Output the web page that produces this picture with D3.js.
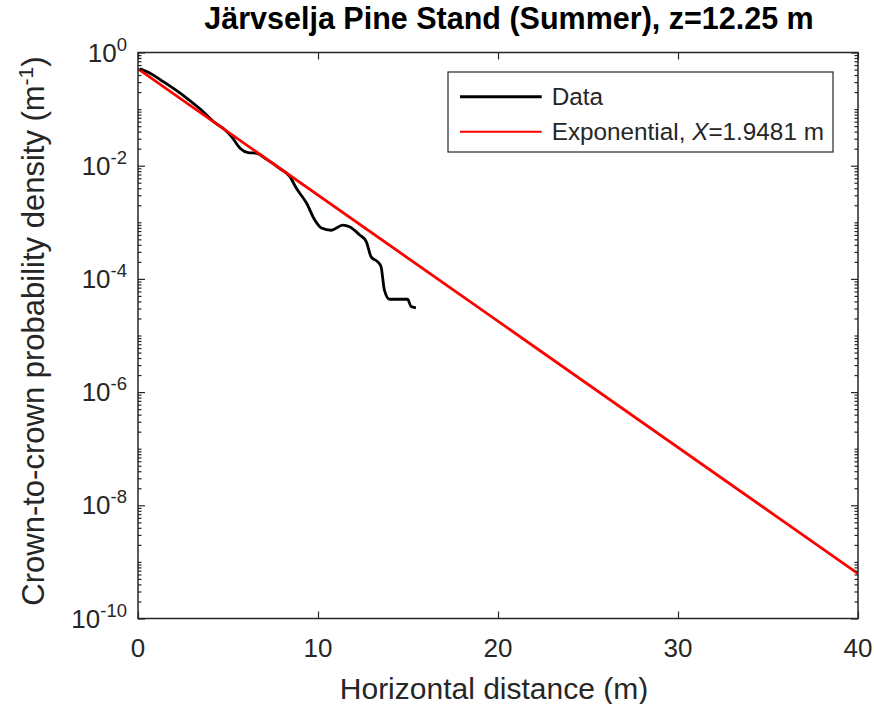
<!DOCTYPE html>
<html>
<head>
<meta charset="utf-8">
<script src="https://cdn.jsdelivr.net/npm/d3@7"></script>
<style>
  body { margin: 0; background: #fff; }
  svg text { font-family: "Liberation Sans", Arial, Helvetica, sans-serif; }
</style>
</head>
<body>
<svg id="chart" width="874" height="704"></svg>
<script>
// Measured crown-to-crown distance distribution (m, 1/m)
const distance = [0.1, 0.69, 1.43, 2.17, 2.72, 3.46, 4.19, 4.84, 5.21, 5.67, 6.13, 6.59, 7.15, 7.88, 8.43,
                  8.8, 9.36, 9.82, 10.19, 10.74, 11.38, 11.75, 12.3, 12.68, 12.95, 13.32, 13.5, 13.69, 13.97,
                  14.98, 15.17, 15.44];
const density = [0.513, 0.427, 0.302, 0.209, 0.155, 0.100, 0.0603, 0.0427, 0.0324, 0.0204, 0.0170, 0.0166,
                 0.0129, 0.00891, 0.00646, 0.00398, 0.00219, 0.00110, 7.94e-4, 7.24e-4, 8.91e-4, 8.32e-4,
                 6.03e-4, 4.57e-4, 2.45e-4, 2.00e-4, 1.66e-4, 6.31e-5, 4.37e-5, 4.37e-5, 3.24e-5, 3.09e-5];

// Exponential model p(r) = exp(-r/X)/X with fitted length scale X
const fitLength = 1.9481;
const fitRange = [0, 40];

const xTickValues = [0, 10, 20, 30, 40];
const yTickExponents = [-10, -8, -6, -4, -2, 0];
const legendLabels = ["Data", "Exponential"];

const titleText = "Järvselja Pine Stand (Summer), z=12.25 m";
const xLabelText = "Horizontal distance (m)";

const box = { left: 138, right: 858, top: 52.5, bottom: 618.5 };
const axisColor = "#262626";
const tickFont = 26;

const svg = d3.select("#chart");

const x = d3.scaleLinear().domain([0, 40]).range([box.left, box.right]);
const y = d3.scaleLog().domain([1e-10, 1]).range([box.bottom, box.top]);

// clip region for curves
svg.append("defs").append("clipPath").attr("id", "plotClip")
  .append("rect")
  .attr("x", box.left).attr("y", box.top)
  .attr("width", box.right - box.left).attr("height", box.bottom - box.top);

const plot = svg.append("g").attr("clip-path", "url(#plotClip)");

const dataPoints = distance.map((d, i) => [d, density[i]]);
const line = d3.line().x(d => x(d[0])).y(d => y(d[1]));

plot.append("path")
  .datum(dataPoints)
  .attr("fill", "none")
  .attr("stroke", "#000")
  .attr("stroke-width", 2.8)
  .attr("stroke-linejoin", "round")
  .attr("d", line.curve(d3.curveMonotoneX));

const fitPoints = fitRange.map(r => [r, Math.exp(-r / fitLength) / fitLength]);
plot.append("path")
  .datum(fitPoints)
  .attr("fill", "none")
  .attr("stroke", "#ff0000")
  .attr("stroke-width", 2.8)
  .attr("d", d3.line().x(d => x(d[0])).y(d => y(d[1]))(fitPoints));

// axes (ticks pointing inward on all four sides)
const majorY = yTickExponents.map(e => Math.pow(10, e));
const minorY = y.ticks(30).filter(v => !majorY.some(m => Math.abs(Math.log10(v) - Math.log10(m)) < 1e-6));

function styleAxis(g) {
  g.select(".domain").remove();
  g.selectAll("line").attr("stroke", axisColor).attr("stroke-width", 1.2);
  g.selectAll("text").remove();
}

svg.append("g").attr("transform", `translate(0,${box.bottom})`)
  .call(d3.axisBottom(x).tickValues(xTickValues).tickSize(-7)).call(styleAxis);
svg.append("g").attr("transform", `translate(0,${box.top})`)
  .call(d3.axisTop(x).tickValues(xTickValues).tickSize(-7)).call(styleAxis);
svg.append("g").attr("transform", `translate(${box.left},0)`)
  .call(d3.axisLeft(y).tickValues(majorY).tickSize(-7)).call(styleAxis);
svg.append("g").attr("transform", `translate(${box.right},0)`)
  .call(d3.axisRight(y).tickValues(majorY).tickSize(-7)).call(styleAxis);
svg.append("g").attr("transform", `translate(${box.left},0)`)
  .call(d3.axisLeft(y).tickValues(minorY).tickSize(-3.5)).call(styleAxis);
svg.append("g").attr("transform", `translate(${box.right},0)`)
  .call(d3.axisRight(y).tickValues(minorY).tickSize(-3.5)).call(styleAxis);

svg.append("rect")
  .attr("x", box.left).attr("y", box.top)
  .attr("width", box.right - box.left).attr("height", box.bottom - box.top)
  .attr("fill", "none").attr("stroke", axisColor).attr("stroke-width", 1.5);

// x tick labels
svg.append("g").selectAll("text")
  .data(xTickValues).join("text")
  .attr("x", d => x(d)).attr("y", box.bottom + 38.5)
  .attr("text-anchor", "middle")
  .attr("font-size", tickFont).attr("fill", axisColor)
  .text(d => d);

// y tick labels as 10^k
const yLab = svg.append("g").selectAll("text")
  .data(yTickExponents).join("text")
  .attr("x", box.left - 11).attr("y", e => y(Math.pow(10, e)) + 9)
  .attr("text-anchor", "end")
  .attr("font-size", tickFont).attr("fill", axisColor);
yLab.append("tspan").text("10");
yLab.append("tspan").attr("dy", -11).attr("font-size", 18.5).text(e => e);

// title
svg.append("text")
  .attr("x", 509).attr("y", 28.5)
  .attr("text-anchor", "middle")
  .attr("font-size", 30.5).attr("font-weight", "bold").attr("fill", "#000")
  .text(titleText);

// x axis label
svg.append("text")
  .attr("x", 494).attr("y", 699)
  .attr("text-anchor", "middle")
  .attr("font-size", 30).attr("fill", axisColor)
  .text(xLabelText);

// y axis label
const yl = svg.append("text")
  .attr("transform", `translate(44,331) rotate(-90)`)
  .attr("text-anchor", "middle")
  .attr("font-size", 31).attr("fill", axisColor);
yl.append("tspan").text("Crown-to-crown probability density (m");
yl.append("tspan").attr("dy", -11).attr("font-size", 21).text("-1");
yl.append("tspan").attr("dy", 11).text(")");

// legend
const legend = svg.append("g");
legend.append("rect")
  .attr("x", 448).attr("y", 72).attr("width", 385).attr("height", 80)
  .attr("fill", "#fff").attr("stroke", axisColor).attr("stroke-width", 1.2);
const legendRows = [
  { color: "#000", width: 3, y: 96.7 },
  { color: "#ff0000", width: 2, y: 131.7 }
];
legendRows.forEach(r => {
  legend.append("line")
    .attr("x1", 460).attr("x2", 541.7).attr("y1", r.y).attr("y2", r.y)
    .attr("stroke", r.color).attr("stroke-width", r.width);
});
legend.append("text")
  .attr("x", 551.7).attr("y", 96.7 + 8.7)
  .attr("font-size", 24.3).attr("fill", axisColor)
  .text(legendLabels[0]);
const lt = legend.append("text")
  .attr("x", 551.7).attr("y", 131.7 + 8.7)
  .attr("font-size", 24.3).attr("fill", axisColor);
lt.append("tspan").text(legendLabels[1] + ", ");
lt.append("tspan").attr("font-style", "italic").text("X");
lt.append("tspan").text("=" + fitLength + " m");
</script>
</body>
</html>
